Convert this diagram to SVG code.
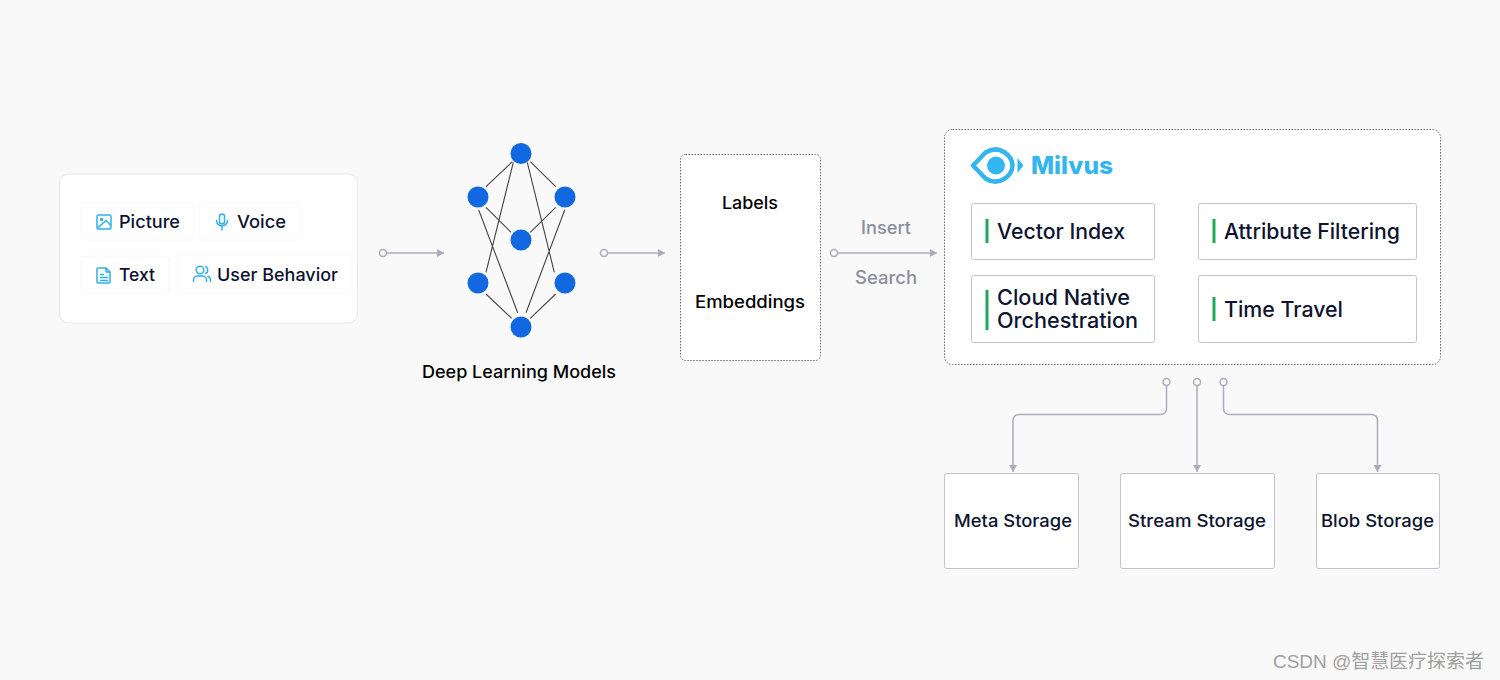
<svg xmlns="http://www.w3.org/2000/svg" width="1500" height="680" viewBox="0 0 1500 680">
<defs>
<marker id="arrow" markerUnits="userSpaceOnUse" markerWidth="8" markerHeight="8" refX="7" refY="4" orient="auto"><path d="M0 0L7 4L0 8Z" fill="#abacbb"/></marker>
</defs>
<style>
text{font-family:"Inter","Liberation Sans",sans-serif;fill:#0d1330;font-weight:500}
.lbl{font-size:17.5px}
.item{font-size:21px}
.sec{font-size:17px;fill:#000}
.chip{fill:#fff;stroke:#f8f8fa;stroke-width:1}
.box{fill:#fff;stroke:#c2c3cc;stroke-width:1}
.dot{fill:#fff;stroke:#666;stroke-width:1;stroke-dasharray:1.5 1.5}
.bar{stroke:#1ea957;stroke-width:3}
.ic{fill:none;stroke:#2db1e8;stroke-width:1.5;stroke-linecap:round;stroke-linejoin:round}
.c{fill:none;stroke:#abacbb;stroke-width:1.5}
.o{fill:#f9f9f9;stroke:#abacbb;stroke-width:1.5}
.n{fill:#1268e0}
.e{stroke:#444;stroke-width:1.1}
.t{font-size:18px;fill:#8c8d9c}
</style>
<rect width="1500" height="680" fill="#f9f9f9"/>

<g id="inputs">
<rect x="59.500" y="174" width="298" height="149" rx="9" fill="#fff" stroke="#e8e8ec"/>
<g id="picture"><rect class="chip" x="81" y="203" width="113" height="37" rx="5"/>
<rect class="ic" x="97" y="215" width="14" height="14" rx="1.500"/><circle class="ic" cx="101.500" cy="219.500" r="1"/><path class="ic" d="M97.500 228L106 220.500L110.500 225"/>
<text class="lbl" x="119" y="228" textLength="61" lengthAdjust="spacingAndGlyphs">Picture</text></g>
<g id="voice"><rect class="chip" x="199" y="203" width="102" height="37" rx="5"/>
<rect class="ic" x="219.500" y="214" width="5" height="10" rx="2.500"/><path class="ic" d="M216.500 220.500a5.500 5.500 0 0 0 11 0M222 226v4"/>
<text class="lbl" x="237" y="228" textLength="49" lengthAdjust="spacingAndGlyphs">Voice</text></g>
<g id="text"><rect class="chip" x="81" y="256" width="88" height="37" rx="5"/>
<path class="ic" d="M98 268h8l4 4v10a1 1 0 0 1-1 1h-11a1 1 0 0 1-1-1v-13a1 1 0 0 1 1-1zM106 268v4h4M100.500 274.500h3M100.500 277.500h7M100.500 280.500h7"/>
<text class="lbl" x="119" y="281" textLength="36" lengthAdjust="spacingAndGlyphs">Text</text></g>
<g id="user-behavior"><rect class="chip" x="178" y="255" width="174" height="38" rx="5"/>
<circle class="ic" cx="200" cy="270" r="3.800"/><path class="ic" d="M193.500 281.500v-1.500a4 4 0 0 1 4-4h5a4 4 0 0 1 4 4v1.500M205.500 266.500a3.800 3.800 0 0 1 0 7M208 276.300a4 4 0 0 1 2.500 3.700v1.500"/>
<text class="lbl" x="217" y="281" textLength="121" lengthAdjust="spacingAndGlyphs">User Behavior</text></g>
</g>

<g id="network">
<path class="e" fill="none" d="M486 186.700L512.300 161.700M530.300 161.700L555.700 186.700M513.300 162.300L486 272.300M527.300 162.300L554.300 272.300M486 207.300L511 232.300M555.700 207.300L530.300 232.300M478.700 210L517.700 312.700M564.700 210L526 312.700M486 294L511.700 318.300M555.700 294L530.300 318.300"/>
<circle class="n" cx="521" cy="153.500" r="10.500"/><circle class="n" cx="478" cy="197" r="10.500"/><circle class="n" cx="565" cy="197" r="10.500"/><circle class="n" cx="521" cy="240" r="10.500"/><circle class="n" cx="478" cy="283" r="10.500"/><circle class="n" cx="565" cy="283" r="10.500"/><circle class="n" cx="521" cy="327" r="10.500"/>
<text class="sec" x="422" y="378" textLength="194" lengthAdjust="spacingAndGlyphs">Deep Learning Models</text>
</g>

<g id="vectors">
<rect class="dot" x="680.500" y="154.500" width="140" height="206" rx="5"/>
<text class="sec" x="722" y="209" textLength="56" lengthAdjust="spacingAndGlyphs">Labels</text>
<text class="sec" x="695" y="308" textLength="110" lengthAdjust="spacingAndGlyphs">Embeddings</text>
</g>

<g id="milvus">
<rect class="dot" x="944.500" y="129.500" width="496" height="235" rx="8"/>
<g id="logo">
<path d="M973 165.500L985.500 152.500Q995 146.500 1004 152Q1012.500 157.500 1012.500 165.500Q1012.500 173.500 1004 179Q995 184.500 985.500 178.500Z" fill="none" stroke="#35b5ee" stroke-width="4.500" stroke-linejoin="round"/>
<circle cx="996" cy="165.500" r="9" fill="#35b5ee"/>
<path d="M1017.500 158L1023.500 165.500L1017.500 173Z" fill="#35b5ee"/>
<text x="1031" y="174" font-size="24" textLength="82" lengthAdjust="spacingAndGlyphs" style="fill:#35b5ee;font-weight:800">Milvus</text>
</g>
<g id="vector-index"><rect class="box" x="971.500" y="203.500" width="183" height="56" rx="2"/><line class="bar" x1="987" y1="219" x2="987" y2="243"/><text class="item" x="997" y="239" textLength="128" lengthAdjust="spacingAndGlyphs">Vector Index</text></g>
<g id="attribute-filtering"><rect class="box" x="1198.500" y="203.500" width="218" height="56" rx="2"/><line class="bar" x1="1214" y1="219" x2="1214" y2="243"/><text class="item" x="1224" y="239" textLength="176" lengthAdjust="spacingAndGlyphs">Attribute Filtering</text></g>
<g id="cloud-native"><rect class="box" x="971.500" y="275.500" width="183" height="67" rx="2"/><line class="bar" x1="987" y1="290" x2="987" y2="330"/><text class="item" x="997" y="305" textLength="133" lengthAdjust="spacingAndGlyphs">Cloud Native</text><text class="item" x="997" y="328" textLength="141" lengthAdjust="spacingAndGlyphs">Orchestration</text></g>
<g id="time-travel"><rect class="box" x="1198.500" y="275.500" width="218" height="67" rx="2"/><line class="bar" x1="1214" y1="297" x2="1214" y2="321"/><text class="item" x="1224" y="317" textLength="119" lengthAdjust="spacingAndGlyphs">Time Travel</text></g>
</g>

<g id="meta-storage"><rect class="box" x="944.500" y="473.500" width="134" height="95" rx="2"/><text class="sec" x="954" y="526.500" textLength="118" lengthAdjust="spacingAndGlyphs" style="fill:#0d1330">Meta Storage</text></g>
<g id="stream-storage"><rect class="box" x="1120.500" y="473.500" width="154" height="95" rx="2"/><text class="sec" x="1128" y="526.500" textLength="138" lengthAdjust="spacingAndGlyphs" style="fill:#0d1330">Stream Storage</text></g>
<g id="blob-storage"><rect class="box" x="1316.500" y="473.500" width="123" height="95" rx="2"/><text class="sec" x="1321" y="526.500" textLength="113" lengthAdjust="spacingAndGlyphs" style="fill:#0d1330">Blob Storage</text></g>

<g id="connectors">
<path class="c" d="M387 253H444" marker-end="url(#arrow)"/><circle class="o" cx="383" cy="253" r="3.500"/>
<path class="c" d="M608 253H665" marker-end="url(#arrow)"/><circle class="o" cx="604" cy="253" r="3.500"/>
<path class="c" d="M838 253H937" marker-end="url(#arrow)"/><circle class="o" cx="834" cy="253" r="3.500"/>
<path class="c" d="M1166.500 386V408Q1166.500 414.500 1160 414.500H1019.500Q1013 414.500 1013 421V472" marker-end="url(#arrow)"/><circle class="o" cx="1166.500" cy="382" r="3.500"/>
<path class="c" d="M1197 386V472" marker-end="url(#arrow)"/><circle class="o" cx="1197" cy="382" r="3.500"/>
<path class="c" d="M1223.500 386V408Q1223.500 414.500 1230 414.500H1371Q1377.500 414.500 1377.500 421V472" marker-end="url(#arrow)"/><circle class="o" cx="1223.500" cy="382" r="3.500"/>
<text class="t" x="861" y="234" textLength="50" lengthAdjust="spacingAndGlyphs">Insert</text>
<text class="t" x="855" y="284" textLength="62" lengthAdjust="spacingAndGlyphs">Search</text>
</g>

<text x="1273" y="668" font-size="19" style="fill:#a0a0a0;font-family:'Liberation Sans','Noto Sans CJK SC',sans-serif;font-weight:400" textLength="211">CSDN @智慧医疗探索者</text>
</svg>
